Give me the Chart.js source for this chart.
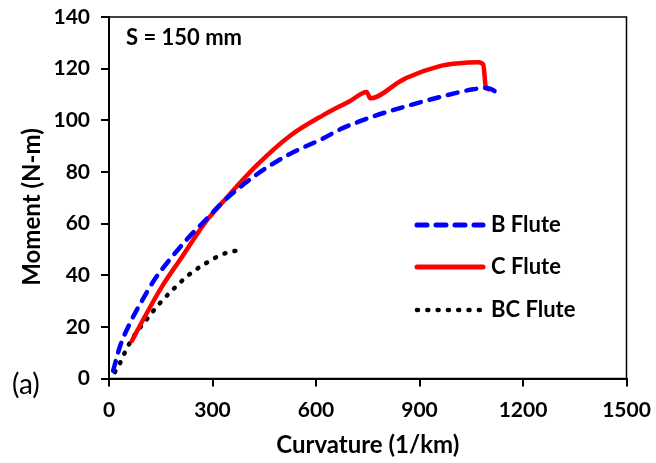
<!DOCTYPE html>
<html>
<head>
<meta charset="utf-8">
<script src="https://cdn.jsdelivr.net/npm/chart.js@4/dist/chart.umd.min.js"></script>
<style>
  html, body { margin: 0; padding: 0; background: #fff; }
  #wrap { width: 656px; height: 463px; }
</style>
</head>
<body>
<div id="wrap"><canvas id="chart" width="656" height="463"></canvas></div>
<script>
// values (curvature in 1/km, moment in N-m)
const bFluteX = [12, 32, 61, 95, 133, 182, 230, 288, 331, 428, 525, 621, 670, 766, 863, 959, 1056, 1095, 1129];
const bFluteY = [3, 12.5, 21.5, 30, 38.5, 47, 54.5, 62.5, 68.5, 79, 87, 93, 96.5, 101.5, 105.5, 109, 112, 112.5, 110.5];

const cFluteX = [66, 104, 153, 211, 279, 331, 428, 525, 621, 699, 747, 757, 843, 863, 959, 1008, 1071, 1085, 1092, 1100];
const cFluteY = [14.5, 24, 35.5, 47, 60.5, 68.5, 82.5, 94, 102, 107.5, 111, 108.5, 115, 116.5, 121, 122, 122.5, 121.5, 113, 112];

const bcFluteX = [17, 32, 51, 75, 104, 143, 182, 230, 279, 327, 350, 370];
const bcFluteY = [2.5, 6, 11.5, 17, 22, 28.5, 34, 40, 44.5, 48, 49, 49.5];

const seriesNames = ['B Flute', 'C Flute', 'BC Flute'];
const xTicks = [0, 300, 600, 900, 1200, 1500];
const yTicks = [0, 20, 40, 60, 80, 100, 120, 140];

function pairs(xs, ys) {
    return xs.map((x, i) => ({x: x, y: ys[i]}));
}

const FONT = 'Lato, "Open Sans", sans-serif';

// frame, legend, y title and the two notes
const extrasPlugin = {
    id: 'extras',
    afterDraw(chart) {
        const ctx = chart.ctx;
        const a = chart.chartArea;
        ctx.save();
        ctx.strokeStyle = '#000';
        ctx.lineWidth = 1.5;
        ctx.strokeRect(a.left, a.top, a.right - a.left, a.bottom - a.top);

        const items = [
            {y: 225, color: '#0000ff', width: 5, dash: [10, 9]},
            {y: 267, color: '#ff0000', width: 5, dash: []},
            {y: 310, color: '#000000', width: 4.5, dash: [1, 9.3]}
        ];
        ctx.fillStyle = '#000';
        ctx.textBaseline = 'middle';
        ctx.textAlign = 'left';
        items.forEach((it, i) => {
            ctx.beginPath();
            ctx.strokeStyle = it.color;
            ctx.lineWidth = it.width;
            ctx.lineCap = 'round';
            ctx.setLineDash(it.dash);
            ctx.moveTo(417, it.y);
            ctx.lineTo(483, it.y);
            ctx.stroke();
            ctx.setLineDash([]);
            ctx.font = 'bold 22px ' + FONT;
            ctx.fillText(seriesNames[i], 491, it.y);
        });

        ctx.font = 'bold 22px ' + FONT;
        ctx.fillText('S = 150 mm', 126, 38);
        ctx.font = '28px ' + FONT;
        ctx.fillText('(a)', 12, 385);

        ctx.translate(32, 207);
        ctx.rotate(-Math.PI / 2);
        ctx.textAlign = 'center';
        ctx.font = 'bold 24px ' + FONT;
        ctx.fillText('Moment (N-m)', 0, 0);
        ctx.restore();
    }
};

const ctx = document.getElementById('chart').getContext('2d');

new Chart(ctx, {
    type: 'line',
    data: {
        datasets: [{
            label: seriesNames[0],
            data: pairs(bFluteX, bFluteY),
            borderColor: '#0000ff',
            borderWidth: 4.5,
            borderDash: [10, 9],
            borderCapStyle: 'round',
            pointRadius: 0,
            cubicInterpolationMode: 'monotone'
        }, {
            label: seriesNames[1],
            data: pairs(cFluteX, cFluteY),
            borderColor: '#ff0000',
            borderWidth: 4.5,
            borderCapStyle: 'round',
            pointRadius: 0,
            cubicInterpolationMode: 'monotone'
        }, {
            label: seriesNames[2],
            data: pairs(bcFluteX, bcFluteY),
            borderColor: '#000000',
            borderWidth: 4.5,
            borderDash: [1, 9.3],
            borderCapStyle: 'round',
            pointRadius: 0,
            cubicInterpolationMode: 'monotone'
        }]
    },
    options: {
        responsive: false,
        animation: false,
        layout: {padding: {left: 0, top: 17, right: 29.5, bottom: 0}},
        plugins: {
            legend: {display: false},
            tooltip: {enabled: false}
        },
        scales: {
            x: {
                type: 'linear',
                min: 0,
                max: 1500,
                afterBuildTicks: s => { s.ticks = xTicks.map(v => ({value: v})); },
                afterFit: s => { s.height = 84.5; s.paddingLeft = 0; s.paddingRight = 0; },
                grid: {drawOnChartArea: false, tickLength: 8, color: '#000', lineWidth: 2},
                border: {color: '#000', width: 2},
                ticks: {
                    color: '#000',
                    padding: 11,
                    font: {family: FONT, size: 21, weight: 'bold'},
                    callback: v => String(v)
                },
                title: {
                    display: true,
                    text: 'Curvature (1/km)',
                    color: '#000',
                    padding: {top: 0, bottom: 3},
                    font: {family: FONT, size: 24, weight: 'bold'}
                }
            },
            y: {
                min: 0,
                max: 140,
                afterBuildTicks: s => { s.ticks = yTicks.map(v => ({value: v})); },
                afterFit: s => { s.width = 109; s.paddingTop = 0; s.paddingBottom = 0; },
                grid: {drawOnChartArea: false, tickLength: 8, color: '#000', lineWidth: 2},
                border: {color: '#000', width: 2},
                ticks: {
                    color: '#000',
                    padding: 11,
                    font: {family: FONT, size: 21, weight: 'bold'},
                    callback: v => String(v)
                }
            }
        }
    },
    plugins: [extrasPlugin]
});
</script>
</body>
</html>
